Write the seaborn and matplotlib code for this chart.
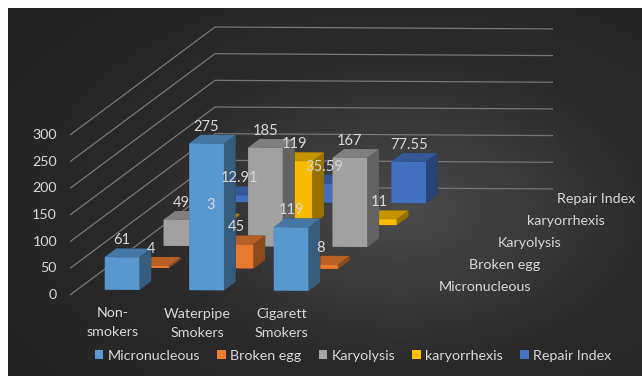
import numpy as np
import matplotlib
matplotlib.use("Agg")
import matplotlib.pyplot as plt
import seaborn as sns
from matplotlib.patches import Patch
from matplotlib.colors import LightSource, LinearSegmentedColormap
from mpl_toolkits.mplot3d import proj3d

# ---------------- data ----------------
categories = ["Non-\nsmokers", "Waterpipe\nSmokers", "Cigarett\nSmokers"]
series_names = ["Micronucleous", "Broken egg", "Karyolysis", "karyorrhexis", "Repair Index"]
micronucleous = [61, 275, 119]
broken_egg = [4, 45, 8]
karyolysis = [49, 185, 167]
karyorrhexis = [3, 119, 11]
repair_index = [12.91, 35.59, 77.55]
value_ticks = [0, 50, 100, 150, 200, 250, 300]
series_colors = ["#5B9BD5", "#ED7D31", "#A5A5A5", "#FFC000", "#4472C4"]

series_values = [micronucleous, broken_egg, karyolysis, karyorrhexis, repair_index]

# ---------------- style ----------------
sns.set_theme(style="dark")
plt.rcParams["font.family"] = ["Lato", "DejaVu Sans"]
TEXT = "#d9d9d9"
GRID = "#787878"
FS = 10.3

W, H = 642, 376
fig = plt.figure(figsize=(W / 100, H / 100), dpi=100, facecolor="white")

# dark radial background (chart area), white strip at top/left like the source
bg = fig.add_axes([8 / W, 0, 1 - 8 / W, 1 - 8 / H])
yy, xx = np.mgrid[0:1:200j, 0:1:340j]
r = np.sqrt(((xx - 0.62) / 0.8) ** 2 + ((yy - 0.45) / 0.85) ** 2)
bg_cmap = LinearSegmentedColormap.from_list("bg", ["#4b4b4b", "#2a2a2a", "#232323"])
bg.imshow(np.clip(r, 0, 1), cmap=bg_cmap, aspect="auto", extent=(0, 1, 0, 1),
          origin="lower", vmin=0, vmax=1, interpolation="bilinear")
bg.set_axis_off()

# ---------------- 3D axes ----------------
ax = fig.add_axes([-0.3, -0.6, 1.6, 2.2], projection="3d")
ax.set_facecolor((0, 0, 0, 0))
ax.patch.set_alpha(0)
ax.set_proj_type("ortho")
AZIM = -85.0
slope = 108.0 / 145.0
ELEV = np.degrees(np.arcsin(slope / np.tan(np.radians(-AZIM))))
ax.view_init(elev=ELEV, azim=AZIM)

XMIN, XMAX = -0.53, 3.47
YMIN, YMAX = -0.45, 4.48
ZMIN, ZMAX = 0, 300
ax.set_xlim(XMIN, XMAX)
ax.set_ylim(YMIN, YMAX)
ax.set_zlim(ZMIN, ZMAX)

bw, bd = 0.41, 0.40
xs, ys, dzs, cols = [], [], [], []
for j, vals in enumerate(series_values):
    for i, v in enumerate(vals):
        xs.append(i - bw / 2)
        ys.append(j - bd / 2)
        dzs.append(v)
        cols.append(series_colors[j])
n = len(xs)
ax.bar3d(xs, ys, np.zeros(n), bw, bd, dzs, color=cols, shade=True,
         lightsource=LightSource(azdeg=190, altdeg=20),
         edgecolor="none", linewidth=0)
for c in ax.collections:
    c.set_clip_on(False)

# axes decoration: only value gridlines on left and back walls
for axis in (ax.xaxis, ax.yaxis, ax.zaxis):
    axis.set_pane_color((0, 0, 0, 0))
    axis.pane.set_edgecolor((0, 0, 0, 0))
    axis.line.set_color((0, 0, 0, 0))
    axis._axinfo["tick"]["inward_factor"] = 0.0
    axis._axinfo["tick"]["outward_factor"] = 0.0
    axis.label.set_visible(False)
    axis.offsetText.set_visible(False)
for axis in (ax.xaxis, ax.yaxis):
    axis._axinfo["grid"]["color"] = (0, 0, 0, 0)
    axis._axinfo["grid"]["linewidth"] = 0
ax.zaxis._axinfo["grid"]["color"] = GRID
ax.zaxis._axinfo["grid"]["linewidth"] = 0.9
ax.zaxis._axinfo["grid"]["linestyle"] = "-"

ax.set_xticks([])
ax.set_yticks([])
ax.set_zticks(value_ticks)
ax.set_zticklabels([])
ax.tick_params(axis="z", color=(0, 0, 0, 0))

# ---------------- calibrate projection to the reference geometry ----------------
def to_px(pts):
    pts = np.asarray(pts, float)
    px, py, _ = proj3d.proj_transform(pts[:, 0], pts[:, 1], pts[:, 2], ax.get_proj())
    return ax.transData.transform(np.column_stack([px, py]))

corners = [(XMIN, YMIN, ZMIN), (XMAX, YMIN, ZMIN), (XMIN, YMAX, ZMIN), (XMIN, YMIN, ZMAX)]
target_len = np.array([338.0, np.hypot(145.0, 108.0), 160.0])
target_origin = np.array([70.0, H - 295.0])

aspect = np.array([4.0, 8.0, 2.0])
zoom = 1.0
ax.set_box_aspect(aspect, zoom=zoom)
for _ in range(2):
    fig.canvas.draw()
    p = to_px(corners)
    L = np.linalg.norm(p[1:] - p[0], axis=1)
    new_aspect = aspect * target_len / L
    zoom = zoom * np.linalg.norm(new_aspect) / np.linalg.norm(aspect)
    aspect = new_aspect
    ax.set_box_aspect(aspect, zoom=zoom)
for _ in range(2):
    fig.canvas.draw()
    p = to_px(corners)
    shift = target_origin - p[0]
    pos = ax.get_position(original=True)
    ax.set_position([pos.x0 + shift[0] / W, pos.y0 + shift[1] / H, pos.width, pos.height])
fig.canvas.draw()


def put(point3d, s, dx=0, dy=0, **kw):
    """Place a label at the projected pixel position of a 3D data point."""
    px_, py_ = to_px([point3d])[0]
    fig.text((px_ + dx) / W, (py_ + dy) / H, s, color=TEXT, **kw)


# value-axis labels at the front-left wall edge
for v in value_ticks:
    put((XMIN, YMIN, v), str(v), dx=-13, fontsize=FS, ha="right", va="center")

# series (depth) labels at the right floor edge
for j, name in enumerate(series_names):
    put((XMAX, j, 0), name, dx=18, fontsize=FS, ha="left", va="center")

# data labels above the front top edge of each bar
for j, vals in enumerate(series_values):
    for i, v in enumerate(vals):
        s = f"{v:g}" if float(v).is_integer() else f"{v:.2f}"
        put((i, j - bd / 2, v), s, dy=17, fontsize=FS + 0.3, ha="center", va="center")

# category labels below the front edge
for i, c in enumerate(categories):
    put((i, YMIN, 0), c, dx=-2, dy=-12, fontsize=FS, ha="center", va="top",
        linespacing=1.7)

handles = [Patch(facecolor=c, edgecolor="none") for c in series_colors]
fig.legend(handles, series_names, loc="center", bbox_to_anchor=(353 / W, 20 / H),
           ncol=5, frameon=False, fontsize=FS, labelcolor=TEXT,
           handlelength=0.6, handleheight=0.6, handletextpad=0.3, columnspacing=1.2)

fig.savefig("out.png", dpi=100, facecolor=fig.get_facecolor())
